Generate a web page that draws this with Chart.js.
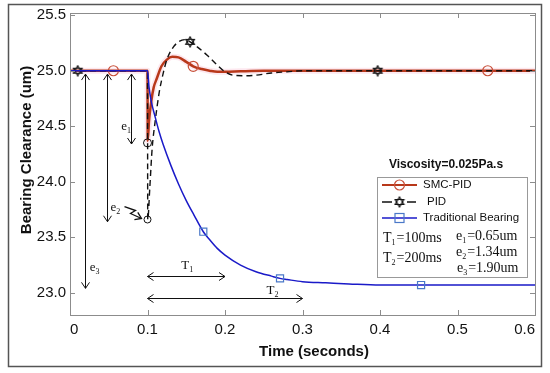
<!DOCTYPE html>
<html>
<head>
<meta charset="utf-8">
<script src="https://cdn.jsdelivr.net/npm/chart.js@4.4.0/dist/chart.umd.min.js"></script>
<style>
html, body { margin: 0; padding: 0; background: #fff; }
canvas { display: block; }
</style>
</head>
<body>
<canvas id="chart" width="550" height="373"></canvas>
<script>
'use strict';

// SMC-PID response
const smcT = [0, 0.056, 0.1, 0.1003, 0.102, 0.105, 0.108, 0.112, 0.118, 0.125, 0.132, 0.14, 0.15, 0.159, 0.17, 0.18, 0.19, 0.2, 0.22, 0.25, 0.539, 0.6];
const smcY = [25, 25, 25, 24.37, 24.55, 24.73, 24.85, 24.93, 25.04, 25.10, 25.125, 25.12, 25.08, 25.04, 25.015, 25.0, 24.99, 24.99, 24.995, 25.0, 25.0, 25.0];
const smcMarkT = [0.056, 0.159, 0.539];

// PID response
const pidT = [0, 0.01, 0.1, 0.1003, 0.103, 0.106, 0.11, 0.115, 0.12, 0.125, 0.132, 0.14, 0.148, 0.155, 0.165, 0.177, 0.19, 0.2, 0.21, 0.225, 0.24, 0.26, 0.28, 0.3, 0.397, 0.6];
const pidY = [25, 25, 25, 23.66, 23.95, 24.3, 24.55, 24.8, 24.97, 25.1, 25.2, 25.26, 25.28, 25.26, 25.21, 25.14, 25.05, 24.99, 24.96, 24.955, 24.96, 24.98, 24.99, 25.0, 25.0, 25.0];
const pidMarkT = [0.01, 0.155, 0.397];

// Traditional bearing
const tradT = [0, 0.1, 0.102, 0.105, 0.11, 0.115, 0.12, 0.13, 0.14, 0.15, 0.16, 0.172, 0.18, 0.19, 0.2, 0.22, 0.24, 0.26, 0.271, 0.28, 0.3, 0.33, 0.36, 0.4, 0.453, 0.5, 0.6];
const tradY = [25, 25, 24.85, 24.72, 24.58, 24.45, 24.34, 24.15, 23.98, 23.83, 23.70, 23.55, 23.48, 23.40, 23.34, 23.25, 23.19, 23.15, 23.13, 23.12, 23.10, 23.09, 23.08, 23.07, 23.07, 23.07, 23.07];
const tradMarkT = [0.172, 0.271, 0.453];

// error / time annotations
const errLabels = ['e1', 'e2', 'e3'];
const errX = [0.079, 0.048, 0.019];
const errTop = [24.97, 24.97, 24.97];
const errBottom = [24.34, 23.64, 23.04];
const errPoints = [24.35, 23.66];
const timeLabels = ['T1', 'T2'];
const timeY = [23.15, 22.95];
const timeFrom = [0.1, 0.1];
const timeTo = [0.2, 0.3];
const timeLabelX = [0.15, 0.26];

const xTicks = [0, 0.1, 0.2, 0.3, 0.4, 0.5, 0.6];

const SANS = '"Liberation Sans", Arial, sans-serif';
const SERIF = '"Liberation Serif", "Times New Roman", serif';

function pts(ts, vs) {
    return ts.map((t, i) => ({ x: t, y: vs[i] }));
}

function markRadius(markT, r) {
    return ctx => (ctx.raw && markT.includes(ctx.raw.x)) ? r : 0;
}

function makeHexagram(size) {
    const c = document.createElement('canvas');
    c.width = c.height = size;
    const g = c.getContext('2d');
    const r = size / 2 - 1, cx = size / 2, cy = size / 2;
    g.strokeStyle = '#111';
    g.lineWidth = 1.2;
    [-Math.PI / 2, Math.PI / 2].forEach(rot => {
        g.beginPath();
        for (let k = 0; k < 3; k++) {
            const an = rot + k * 2 * Math.PI / 3;
            const px = cx + r * Math.cos(an), py = cy + r * Math.sin(an);
            if (k) g.lineTo(px, py); else g.moveTo(px, py);
        }
        g.closePath();
        g.stroke();
    });
    return c;
}
const hexagram = makeHexagram(12);

// text with subscript, e.g. "e1=0.65um" -> e + sub 1 + rest
function subText(ctx, base, sub, rest, x, y, size) {
    ctx.font = size + 'px ' + SERIF;
    ctx.textAlign = 'left';
    ctx.textBaseline = 'alphabetic';
    ctx.fillText(base, x, y);
    let w = ctx.measureText(base).width;
    ctx.font = Math.round(size * 0.6) + 'px ' + SERIF;
    ctx.fillText(sub, x + w, y + 3);
    w += ctx.measureText(sub).width;
    if (rest) {
        ctx.font = size + 'px ' + SERIF;
        ctx.fillText(rest, x + w + 1, y);
    }
}

function arrowHead(ctx, x, y, dx, dy) {
    // open V head at (x,y) pointing along (dx,dy)
    const len = 6, wid = 4;
    const px = -dy, py = dx;
    ctx.beginPath();
    ctx.moveTo(x - dx * len + px * wid, y - dy * len + py * wid);
    ctx.lineTo(x, y);
    ctx.lineTo(x - dx * len - px * wid, y - dy * len - py * wid);
    ctx.stroke();
}

function doubleArrow(ctx, x1, y1, x2, y2) {
    const L = Math.hypot(x2 - x1, y2 - y1);
    const dx = (x2 - x1) / L, dy = (y2 - y1) / L;
    ctx.beginPath();
    ctx.moveTo(x1, y1);
    ctx.lineTo(x2, y2);
    ctx.stroke();
    arrowHead(ctx, x2, y2, dx, dy);
    arrowHead(ctx, x1, y1, -dx, -dy);
}

const decorPlugin = {
    id: 'decor',
    afterDraw(chart) {
        const ctx = chart.ctx;
        const a = chart.chartArea;
        const xs = chart.scales.x, ys = chart.scales.y;
        ctx.save();

        // outer figure frame
        ctx.strokeStyle = '#555';
        ctx.lineWidth = 1.5;
        ctx.strokeRect(8.5, 4.5, 533, 362);

        // plot box and inward ticks
        ctx.strokeStyle = '#8c8c8c';
        ctx.lineWidth = 1;
        ctx.strokeRect(Math.round(a.left) + 0.5, Math.round(a.top) + 0.5, Math.round(a.width), Math.round(a.height));
        ctx.beginPath();
        xs.ticks.forEach(t => {
            const px = Math.round(xs.getPixelForValue(t.value)) + 0.5;
            ctx.moveTo(px, a.bottom); ctx.lineTo(px, a.bottom - 5);
            ctx.moveTo(px, a.top); ctx.lineTo(px, a.top + 5);
        });
        ys.ticks.forEach(t => {
            const py = Math.round(ys.getPixelForValue(t.value)) + 0.5;
            ctx.moveTo(a.left, py); ctx.lineTo(a.left + 5, py);
            ctx.moveTo(a.right, py); ctx.lineTo(a.right - 5, py);
        });
        ctx.stroke();

        // axis titles
        ctx.fillStyle = '#111';
        ctx.font = 'bold 15px ' + SANS;
        ctx.textAlign = 'center';
        ctx.textBaseline = 'middle';
        ctx.fillText('Time (seconds)', 314, 352);
        ctx.save();
        ctx.translate(27, 150);
        ctx.rotate(-Math.PI / 2);
        ctx.fillText('Bearing Clearance (um)', 0, 0);
        ctx.restore();

        // error arrows
        ctx.strokeStyle = '#111';
        ctx.lineWidth = 1;
        errX.forEach((v, i) => {
            const px = Math.round(xs.getPixelForValue(v)) + 0.5;
            doubleArrow(ctx, px, ys.getPixelForValue(errTop[i]), px, ys.getPixelForValue(errBottom[i]));
        });
        const e1x = xs.getPixelForValue(errX[0]), e1y = ys.getPixelForValue(24.47);
        subText(ctx, 'e', errLabels[0].slice(1), '', e1x - 10, e1y, 13);
        const e3x = xs.getPixelForValue(errX[2]), e3y = ys.getPixelForValue(23.2);
        subText(ctx, 'e', errLabels[2].slice(1), '', e3x + 5, e3y, 13);

        // points at minimum
        const cx = xs.getPixelForValue(0.1);
        errPoints.forEach((v, i) => {
            ctx.beginPath();
            ctx.arc(cx, ys.getPixelForValue(v), i ? 3.5 : 4, 0, Math.PI * 2);
            ctx.stroke();
        });

        // e2 label with zigzag arrow
        const p2y = ys.getPixelForValue(errPoints[1]);
        subText(ctx, 'e', errLabels[1].slice(1), '', cx - 37, p2y - 9, 13);
        ctx.lineWidth = 1.3;
        ctx.beginPath();
        ctx.moveTo(cx - 23, p2y - 13);
        ctx.lineTo(cx - 12, p2y - 9);
        ctx.lineTo(cx - 17, p2y - 6);
        ctx.lineTo(cx - 6, p2y - 1);
        ctx.stroke();
        arrowHead(ctx, cx - 6, p2y - 1, 0.9, 0.42);
        ctx.lineWidth = 1;

        // time arrows
        timeLabels.forEach((lab, i) => {
            const py = Math.round(ys.getPixelForValue(timeY[i])) + 0.5;
            const x1 = xs.getPixelForValue(timeFrom[i]), x2 = xs.getPixelForValue(timeTo[i]);
            doubleArrow(ctx, x1, py, x2, py);
            const lx = xs.getPixelForValue(timeLabelX[i]);
            subText(ctx, 'T', lab.slice(1), '', lx - 5, py - (i ? 5 : 8), 13);
        });

        // viscosity label
        ctx.fillStyle = '#111';
        ctx.font = 'bold 12px ' + SANS;
        ctx.textAlign = 'center';
        ctx.textBaseline = 'middle';
        ctx.fillText('Viscosity=0.025Pa.s', 446, 165);

        // legend box
        ctx.fillStyle = '#fff';
        ctx.fillRect(377, 177, 150, 100);
        ctx.strokeStyle = '#999';
        ctx.strokeRect(377.5, 177.5, 150, 100);

        ctx.font = '11.5px ' + SANS;
        ctx.textAlign = 'left';
        ctx.fillStyle = '#111';
        // SMC-PID
        ctx.strokeStyle = '#b8381a';
        ctx.lineWidth = 2;
        ctx.beginPath(); ctx.moveTo(382, 185); ctx.lineTo(417, 185); ctx.stroke();
        ctx.strokeStyle = '#c8503a';
        ctx.lineWidth = 1.2;
        ctx.beginPath(); ctx.arc(399.5, 185, 5, 0, Math.PI * 2); ctx.stroke();
        ctx.fillText('SMC-PID', 423, 185);
        // PID
        ctx.strokeStyle = '#111';
        ctx.lineWidth = 1.5;
        ctx.beginPath();
        ctx.moveTo(382, 202); ctx.lineTo(392, 202);
        ctx.moveTo(407, 202); ctx.lineTo(416, 202);
        ctx.stroke();
        ctx.drawImage(hexagram, 399.5 - hexagram.width / 2, 202 - hexagram.height / 2);
        ctx.fillText('PID', 427, 202);
        // traditional
        ctx.strokeStyle = '#1a1ac8';
        ctx.lineWidth = 1.5;
        ctx.beginPath(); ctx.moveTo(382, 218); ctx.lineTo(417, 218); ctx.stroke();
        ctx.strokeStyle = '#4a78c8';
        ctx.lineWidth = 1.2;
        ctx.strokeRect(395, 213.5, 9, 9);
        ctx.fillText('Traditional Bearing', 423, 218);

        // parameters
        ctx.fillStyle = '#111';
        subText(ctx, 'T', '1', '=100ms', 383, 242, 14);
        subText(ctx, 'T', '2', '=200ms', 383, 262, 14);
        subText(ctx, 'e', '1', '=0.65um', 456, 240, 14);
        subText(ctx, 'e', '2', '=1.34um', 456, 256, 14);
        subText(ctx, 'e', '3', '=1.90um', 457, 272, 14);

        ctx.restore();
    }
};

const chart = new Chart(document.getElementById('chart'), {
    type: 'line',
    data: {
        datasets: [
            {
                label: 'Traditional Bearing',
                data: pts(tradT, tradY),
                borderColor: '#1a1ac8',
                borderWidth: 1.5,
                pointRadius: markRadius(tradMarkT, 5),
                pointStyle: 'rect',
                pointBorderColor: '#4a78c8',
                pointBackgroundColor: 'rgba(0,0,0,0)',
                pointBorderWidth: 1.2,
                cubicInterpolationMode: 'monotone',
                order: 0
            },
            {
                label: 'PID',
                data: pts(pidT, pidY),
                borderColor: '#111',
                borderWidth: 1.4,
                borderDash: [6, 4],
                pointRadius: markRadius(pidMarkT, 6),
                pointStyle: hexagram,
                cubicInterpolationMode: 'monotone',
                order: 1
            },
            {
                label: 'SMC-PID',
                data: pts(smcT, smcY),
                borderColor: '#b8381a',
                borderWidth: 2.5,
                pointRadius: markRadius(smcMarkT, 5),
                pointBorderColor: '#c8503a',
                pointBackgroundColor: 'rgba(0,0,0,0)',
                pointBorderWidth: 1.2,
                cubicInterpolationMode: 'monotone',
                order: 2
            },
            {
                label: 'glow',
                data: pts(smcT, smcY),
                borderColor: 'rgba(250,190,210,0.35)',
                borderWidth: 6,
                pointRadius: 0,
                cubicInterpolationMode: 'monotone',
                order: 3
            }
        ]
    },
    options: {
        responsive: false,
        animation: false,
        layout: { padding: { top: 10, right: 15, left: 0, bottom: 0 } },
        plugins: { legend: { display: false }, tooltip: { enabled: false } },
        scales: {
            x: {
                type: 'linear',
                min: 0,
                max: 0.6,
                afterBuildTicks: s => { s.ticks = xTicks.map(v => ({ value: v })); },
                afterFit: s => { s.height = 58; },
                grid: { display: false, drawTicks: false },
                border: { display: false },
                ticks: {
                    align: 'inner',
                    padding: 6,
                    color: '#111',
                    font: { family: SANS, size: 15 },
                    callback: v => v === 0 ? '0' : v.toFixed(1)
                }
            },
            y: {
                type: 'linear',
                min: 22.8,
                max: 25.52,
                afterFit: s => { s.width = 70; },
                grid: { display: false, drawTicks: false },
                border: { display: false },
                ticks: {
                    stepSize: 0.5,
                    includeBounds: false,
                    padding: 4,
                    color: '#111',
                    font: { family: SANS, size: 15 },
                    callback: v => v.toFixed(1)
                }
            }
        }
    },
    plugins: [decorPlugin]
});
</script>
</body>
</html>
